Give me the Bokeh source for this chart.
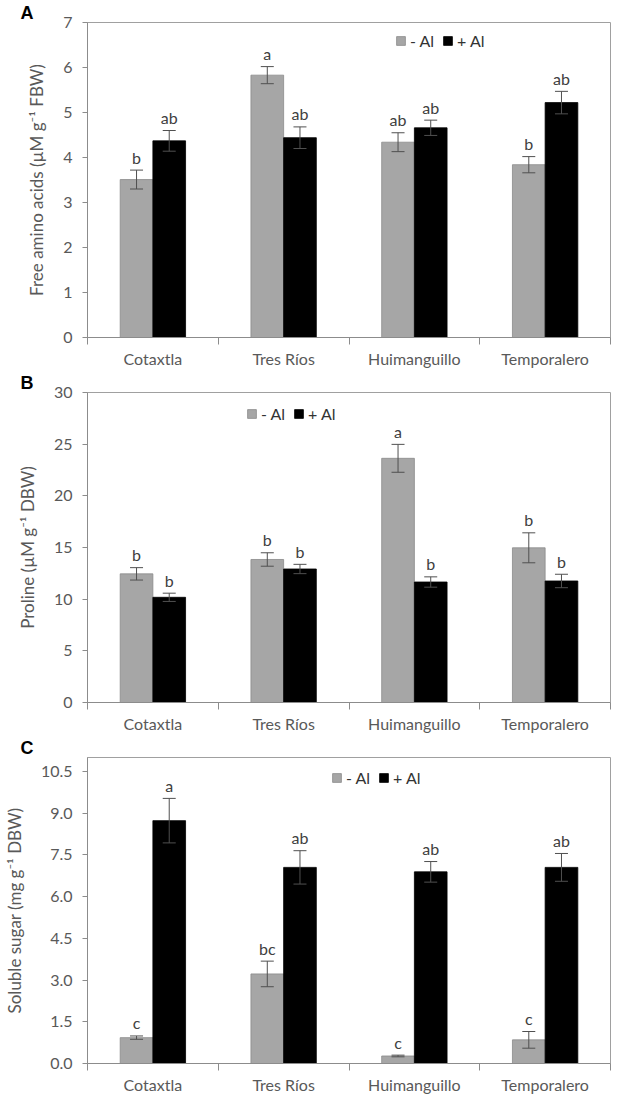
import numpy as np
from bokeh.plotting import figure
from bokeh.models import (ColumnDataSource, Whisker, TeeHead, FixedTicker,
                          Range1d, Legend, LegendItem)
from bokeh.layouts import column
from bokeh.transform import dodge
from bokeh.embed import file_html
from bokeh.resources import INLINE
from bokeh.core.properties import value

# ---------------- data ----------------
categories = ["Cotaxtla", "Tres Ríos", "Huimanguillo", "Temporalero"]
series_labels = ["- Al", "+ Al"]

amino_minus = [3.51, 5.83, 4.34, 3.84]
amino_minus_err = [0.21, 0.19, 0.21, 0.18]
amino_plus = [4.37, 4.44, 4.66, 5.22]
amino_plus_err = [0.23, 0.24, 0.17, 0.25]
amino_minus_letters = ["b", "a", "ab", "b"]
amino_plus_letters = ["ab", "ab", "ab", "ab"]
amino_ticks = [0, 1, 2, 3, 4, 5, 6, 7]

proline_minus = [12.45, 13.84, 23.63, 14.97]
proline_minus_err = [0.6, 0.65, 1.35, 1.45]
proline_plus = [10.18, 12.92, 11.66, 11.76]
proline_plus_err = [0.4, 0.45, 0.5, 0.65]
proline_minus_letters = ["b", "b", "a", "b"]
proline_plus_letters = ["b", "b", "b", "b"]
proline_ticks = [0, 5, 10, 15, 20, 25, 30]

sugar_minus = [0.93, 3.22, 0.27, 0.85]
sugar_minus_err = [0.06, 0.46, 0.03, 0.30]
sugar_plus = [8.73, 7.05, 6.89, 7.05]
sugar_plus_err = [0.80, 0.60, 0.37, 0.50]
sugar_minus_letters = ["c", "bc", "c", "c"]
sugar_plus_letters = ["a", "ab", "ab", "ab"]
sugar_ticks = [0.0, 1.5, 3.0, 4.5, 6.0, 7.5, 9.0, 10.5]

FONT = "Lato"
TXT = "#595959"
AXC = "#8c8c8c"
GRAY = "#a6a6a6"
BTOP = 18
BBOT = 30


def make_panel(tag, ylabel, minus, minus_err, plus, plus_err, lm, lp,
               ymax, ticks, decimals, legend_x, legend_dy, h):
    est_fh = h - BTOP - BBOT
    pos = np.arange(len(categories)) + 0.5
    src = ColumnDataSource(dict(
        x=pos,
        minus=minus, plus=plus,
        m_up=np.array(minus) + np.array(minus_err),
        m_lo=np.array(minus) - np.array(minus_err),
        p_up=np.array(plus) + np.array(plus_err),
        p_lo=np.array(plus) - np.array(plus_err),
        lm=lm, lp=lp,
    ))
    p = figure(width=612, height=h, output_backend="svg",
               toolbar_location=None,
               x_range=Range1d(0, len(categories)), y_range=Range1d(0, ymax),
               min_border_left=72, min_border_right=2,
               min_border_top=BTOP, min_border_bottom=BBOT)
    p.xgrid.visible = False
    p.ygrid.visible = False
    p.outline_line_color = "#a0a0a0"
    p.outline_line_width = 1

    # panel tag as title
    p.title.text = tag
    p.title.align = "left"
    p.title.offset = -67
    p.title.standoff = 0
    p.title.text_font = "Liberation Sans"
    p.title.text_font_style = "bold"
    p.title.text_font_size = "18px"
    p.title.text_color = "black"
    p.title.text_line_height = 1.0

    r1 = p.vbar(x=dodge("x", -0.125), top="minus", width=0.25, source=src,
                fill_color=GRAY, line_color="#8a8a8a", line_width=0.8)
    r2 = p.vbar(x=dodge("x", 0.125), top="plus", width=0.25, source=src,
                fill_color="black", line_color="black", line_width=0.8)

    for base, up, lo in ((dodge("x", -0.125), "m_up", "m_lo"),
                         (dodge("x", 0.125), "p_up", "p_lo")):
        w = Whisker(source=src, base=base, upper=up, lower=lo,
                    line_color="#505050", line_width=1, level="annotation",
                    upper_head=TeeHead(size=13, line_color="#505050", line_width=1),
                    lower_head=TeeHead(size=13, line_color="#505050", line_width=1))
        p.add_layout(w)

    for xs, ys, ts in ((dodge("x", -0.125), "m_up", "lm"),
                       (dodge("x", 0.125), "p_up", "lp")):
        p.text(x=xs, y=ys, text=ts, source=src,
               text_align="center", text_baseline="alphabetic", y_offset=-13,
               text_font=value(FONT), text_font_size="16px", text_color="#404040")

    # x axis: labels at category centres, separator ticks at boundaries
    xa = p.xaxis[0]
    xa.ticker = FixedTicker(ticks=list(pos),
                            minor_ticks=list(range(len(categories) + 1)))
    xa.major_label_overrides = {float(v): c for v, c in zip(pos, categories)}
    xa.major_tick_out = 0
    xa.major_tick_in = 0
    xa.minor_tick_out = 7
    xa.minor_tick_in = 0
    xa.minor_tick_line_color = AXC
    xa.axis_line_color = AXC
    xa.major_label_standoff = 4
    xa.major_label_text_font = FONT
    xa.major_label_text_font_size = "16px"
    xa.major_label_text_color = TXT

    ya = p.yaxis[0]
    ya.ticker = FixedTicker(ticks=ticks)
    ya.major_label_overrides = {float(t): f"{t:.{decimals}f}" for t in ticks}
    ya.major_tick_out = 5
    ya.major_tick_in = 0
    ya.minor_tick_out = 0
    ya.minor_tick_in = 0
    ya.major_tick_line_color = AXC
    ya.axis_line_color = AXC
    ya.major_label_standoff = 10
    ya.major_label_text_font = FONT
    ya.major_label_text_font_size = "16px"
    ya.major_label_text_color = TXT
    ya.axis_label = ylabel
    ya.axis_label_text_font = FONT
    ya.axis_label_text_font_size = "17px"
    ya.axis_label_text_font_style = "normal"
    ya.axis_label_text_color = TXT
    ya.axis_label_standoff = 13

    legend = Legend(items=[LegendItem(label=series_labels[0], renderers=[r1]),
                           LegendItem(label=series_labels[1], renderers=[r2])],
                    orientation="horizontal",
                    location=(legend_x, est_fh - 26 - legend_dy),
                    background_fill_alpha=0, border_line_alpha=0,
                    padding=0, margin=0, spacing=8,
                    glyph_width=11, glyph_height=11, label_standoff=4,
                    label_height=14, label_width=20,
                    label_text_font=FONT, label_text_font_size="16px",
                    label_text_color="#333333")
    p.add_layout(legend)
    return p


pA = make_panel("A", "Free amino acids (µM g⁻¹ FBW)", amino_minus, amino_minus_err,
                amino_plus, amino_plus_err, amino_minus_letters, amino_plus_letters,
                7, amino_ticks, 0, 308, 9, 370)
pB = make_panel("B", "Proline (µM g⁻¹ DBW)", proline_minus, proline_minus_err,
                proline_plus, proline_plus_err, proline_minus_letters, proline_plus_letters,
                30, proline_ticks, 0, 159, 12, 365)
pC = make_panel("C", "Soluble sugar (mg g⁻¹ DBW)", sugar_minus, sugar_minus_err,
                sugar_plus, sugar_plus_err, sugar_minus_letters, sugar_plus_letters,
                11, sugar_ticks, 1, 244, 11, 361)

layout = column(pA, pB, pC, spacing=0)
open("out.html", "w").write(file_html(layout, INLINE))
